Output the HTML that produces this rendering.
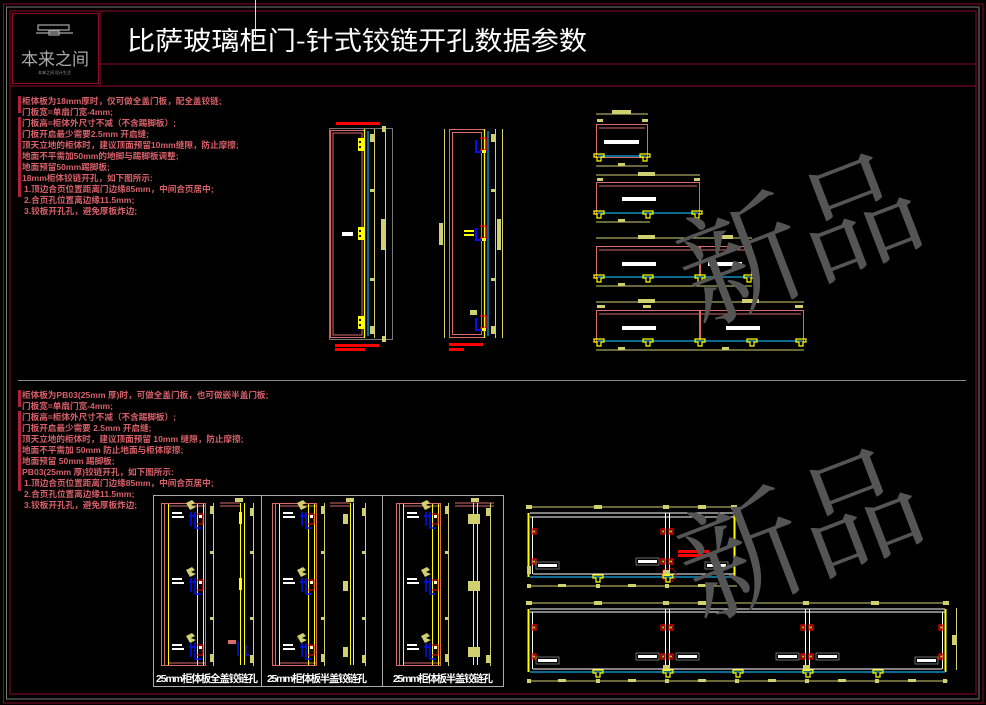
<!DOCTYPE html>
<html><head><meta charset="utf-8"><style>
html,body{margin:0;padding:0;background:#000;width:986px;height:705px;overflow:hidden}
svg{display:block}
.t{font-family:"Liberation Sans","Noto Sans CJK SC",sans-serif;font-size:8.6px;fill:#d8606a;font-weight:bold}
</style></head><body>
<svg width="986" height="705" viewBox="0 0 986 705" xmlns="http://www.w3.org/2000/svg">
<defs>
<g id="hg"><rect x="0" y="0" width="6" height="13" fill="#ffff00"/><rect x="1" y="3" width="2" height="2" fill="#000"/><rect x="1" y="8" width="2" height="2" fill="#000"/></g>
<g id="hb"><path d="M0 0v12h8" stroke="#0010ff" stroke-width="2" fill="none"/><path d="M4 -2h6v12h-6" stroke="#ff0000" stroke-width="1.2" fill="none"/><rect x="6" y="10" width="4" height="3" fill="#ffff00"/></g>
<g id="tee"><path d="M-5 0h10v3h-3v4h-4v-4h-3z" fill="none" stroke="#ffff00" stroke-width="1.2"/></g>
<g id="lbl"><rect x="0" y="0" width="23" height="7" fill="none" stroke="#888" stroke-width="0.8"/><rect x="2" y="2" width="19" height="3" fill="#fff"/></g>
<g id="rh"><rect x="0" y="0" width="4" height="5" fill="none" stroke="#ff0000" stroke-width="1.2"/><rect x="1.3" y="1.5" width="1.5" height="2" fill="#ffff00"/></g>
<g id="pc"><path d="M0 0l6 -3 3 3 -4 2 5 2 -6 3z" fill="#d0d070"/></g>
<g id="hc"><path d="M0 0v14M-2 4h6M4 0v16h6" stroke="#0010ff" stroke-width="1.5" fill="none"/><path d="M6 2h6v10h-6" stroke="#ff0000" stroke-width="1" fill="none"/><rect x="8" y="3" width="3" height="3" fill="#fff"/></g>
</defs>

<rect x="3.5" y="4" width="979.5" height="699" fill="none" stroke="#8a0a28" stroke-width="1"/>
<rect x="6.5" y="7" width="972.5" height="692" fill="none" stroke="#777" stroke-width="1"/>
<rect x="10" y="11" width="966" height="683" fill="none" stroke="#8a0a28" stroke-width="1"/>
<rect x="12.5" y="13.5" width="86" height="70" fill="none" stroke="#8a0a28" stroke-width="1"/>
<line x1="100" y1="11" x2="100" y2="86" stroke="#8a0a28"/>
<line x1="100" y1="64" x2="976" y2="64" stroke="#8a0a28"/>
<line x1="10" y1="86" x2="976" y2="86" stroke="#8a0a28"/>
<line x1="255.5" y1="0" x2="255.5" y2="40" stroke="#ddd"/>

<g stroke="#aaa" fill="none" stroke-width="1.2">
<rect x="38" y="25" width="31" height="5"/><line x1="36" y1="33" x2="73" y2="33"/><rect x="49" y="31" width="10" height="4"/>
</g>
<text x="21" y="65" font-family="'Noto Sans CJK SC',sans-serif" font-size="17" fill="#aaa" textLength="68">本来之间</text>
<text x="38" y="74" font-family="'Noto Sans CJK SC',sans-serif" font-size="4" fill="#999">本来之间 设计生活</text>

<text x="127" y="50" font-family="'Noto Sans CJK SC',sans-serif" font-size="26" fill="#fff" textLength="460" lengthAdjust="spacingAndGlyphs">比萨玻璃柜门-针式铰链开孔数据参数</text>

<g fill="#b02038"><rect x="18" y="96" width="3" height="17"/><rect x="18" y="117" width="3" height="80"/></g>
<g class="t">
<text x="22" y="104">柜体板为18mm厚时，仅可做全盖门板，配全盖铰链;</text>
<text x="22" y="115">门板宽=单扇门宽-4mm;</text>
<text x="22" y="126">门板高=柜体外尺寸不减（不含踢脚板）;</text>
<text x="22" y="137">门板开启最少需要2.5mm 开启缝;</text>
<text x="22" y="148">顶天立地的柜体时，建议顶面预留10mm缝隙，防止摩擦;</text>
<text x="22" y="159">地面不平需加50mm的地脚与踢脚板调整;</text>
<text x="22" y="170">地面预留50mm踢脚板;</text>
<text x="22" y="181">18mm柜体铰链开孔，如下图所示:</text>
<text x="24" y="192">1.顶边合页位置距离门边缘85mm，中间合页居中;</text>
<text x="24" y="203">2.合页孔位置离边缘11.5mm;</text>
<text x="24" y="214">3.铰板开孔孔，避免厚板炸边;</text>
</g>

<line x1="18" y1="380.5" x2="966" y2="380.5" stroke="#888"/>

<g fill="#b02038"><rect x="18" y="390" width="3" height="17"/><rect x="18" y="411" width="3" height="80"/></g>
<g class="t">
<text x="22" y="398">柜体板为PB03(25mm 厚)时，可做全盖门板，也可做嵌半盖门板;</text>
<text x="22" y="409">门板宽=单扇门宽-4mm;</text>
<text x="22" y="420">门板高=柜体外尺寸不减（不含踢脚板）;</text>
<text x="22" y="431">门板开启最少需要 2.5mm 开启缝;</text>
<text x="22" y="442">顶天立地的柜体时，建议顶面预留 10mm 缝隙，防止摩擦;</text>
<text x="22" y="453">地面不平需加 50mm 防止地面与柜体摩擦;</text>
<text x="22" y="464">地面预留 50mm 踢脚板;</text>
<text x="22" y="475">PB03(25mm 厚)铰链开孔，如下图所示:</text>
<text x="24" y="486">1.顶边合页位置距离门边缘85mm，中间合页居中;</text>
<text x="24" y="497">2.合页孔位置离边缘11.5mm;</text>
<text x="24" y="508">3.铰板开孔孔，避免厚板炸边;</text>
</g>

<rect x="336" y="122" width="44" height="3" fill="#ff0000"/>
<rect x="329.5" y="128.5" width="63" height="211" fill="none" stroke="#777"/>
<rect x="330.5" y="130.5" width="34" height="207" fill="none" stroke="#d86a6a"/>
<rect x="333" y="133" width="29" height="202" fill="none" stroke="#d86a6a"/>
<line x1="364.5" y1="129" x2="364.5" y2="338" stroke="#ffff00" stroke-width="1.3"/>
<line x1="368" y1="131" x2="368" y2="336" stroke="#0a6a90" stroke-width="2"/>
<line x1="374.5" y1="129" x2="374.5" y2="338" stroke="#d0d070"/>
<line x1="385.5" y1="128" x2="385.5" y2="340" stroke="#d0d070"/>
<use href="#hg" x="358" y="138"/><use href="#hg" x="358" y="227"/><use href="#hg" x="358" y="316"/>
<rect x="370" y="134" width="5" height="8" fill="#d0d070"/><rect x="370" y="189" width="5" height="3" fill="#d0d070"/><rect x="370" y="278" width="5" height="3" fill="#d0d070"/><rect x="370" y="326" width="5" height="8" fill="#d0d070"/>
<rect x="381" y="219" width="5" height="31" fill="#d0d070"/>
<rect x="382" y="126" width="4" height="6" fill="#d0d070"/><rect x="382" y="336" width="4" height="6" fill="#d0d070"/>
<rect x="342" y="232" width="11" height="4" fill="#fff"/>
<rect x="335" y="344" width="44" height="3" fill="#ff0000"/><rect x="335" y="348" width="30" height="3" fill="#ff0000"/>

<line x1="444.5" y1="129" x2="444.5" y2="338" stroke="#d0d070"/>
<rect x="449.5" y="129.5" width="35" height="208" fill="none" stroke="#d86a6a"/>
<rect x="452.5" y="132.5" width="29" height="202" fill="none" stroke="#d86a6a"/>
<line x1="484.5" y1="129" x2="484.5" y2="338" stroke="#ffff00" stroke-width="1.3"/>
<line x1="488" y1="131" x2="488" y2="336" stroke="#0a6a90" stroke-width="2"/>
<line x1="495.5" y1="129" x2="495.5" y2="338" stroke="#d0d070"/>
<line x1="502.5" y1="129" x2="502.5" y2="338" stroke="#d0d070"/>
<rect x="439" y="223" width="4" height="22" fill="#d0d070"/>
<rect x="497" y="219" width="4" height="31" fill="#d0d070"/>
<rect x="491" y="134" width="4" height="8" fill="#d0d070"/><rect x="491" y="189" width="4" height="3" fill="#d0d070"/><rect x="491" y="278" width="4" height="3" fill="#d0d070"/><rect x="491" y="326" width="4" height="8" fill="#d0d070"/>
<use href="#hb" x="476" y="140"/><use href="#hb" x="476" y="228"/><use href="#hb" x="476" y="318"/>
<rect x="464" y="230" width="10" height="2" fill="#ffff00"/><rect x="464" y="234" width="10" height="2" fill="#ffff00"/>
<rect x="470" y="310" width="7" height="5" fill="#d0d070"/>
<rect x="449" y="343" width="34" height="3" fill="#ff0000"/><rect x="449" y="348" width="15" height="3" fill="#ff0000"/>

<g fill="none" stroke-width="1">
<line x1="596" y1="114" x2="648" y2="114" stroke="#d0d070"/><rect x="612" y="110" width="19" height="4" fill="#d0d070" stroke="none"/>
<rect x="597" y="119" width="6" height="3" fill="#d0d070" stroke="none"/><rect x="642" y="119" width="6" height="3" fill="#d0d070" stroke="none"/>
<rect x="596.5" y="124.5" width="51" height="33" stroke="#d86a6a"/><line x1="599" y1="128" x2="645" y2="128" stroke="#d86a6a"/>
<line x1="598" y1="156" x2="646" y2="156" stroke="#0a6a90" stroke-width="2"/>
<line x1="596" y1="166" x2="648" y2="166" stroke="#d0d070"/><rect x="618" y="163" width="7" height="3" fill="#d0d070" stroke="none"/>
<rect x="604" y="140" width="35" height="4" fill="#fff" stroke="none"/>
<line x1="596" y1="175" x2="700" y2="175" stroke="#d0d070"/><rect x="638" y="172" width="17" height="4" fill="#d0d070" stroke="none"/>
<rect x="597" y="178" width="6" height="3" fill="#d0d070" stroke="none"/><rect x="694" y="178" width="6" height="3" fill="#d0d070" stroke="none"/>
<rect x="596.5" y="182.5" width="103" height="31" stroke="#d86a6a"/><line x1="599" y1="186" x2="697" y2="186" stroke="#d86a6a"/>
<line x1="598" y1="213" x2="698" y2="213" stroke="#0a6a90" stroke-width="2"/>
<line x1="596" y1="222" x2="650" y2="222" stroke="#d0d070"/><rect x="618" y="219" width="7" height="3" fill="#d0d070" stroke="none"/>
<rect x="622" y="197" width="34" height="4" fill="#fff" stroke="none"/>
<line x1="596" y1="238" x2="752" y2="238" stroke="#d0d070"/><rect x="638" y="235" width="17" height="4" fill="#d0d070" stroke="none"/><rect x="716" y="235" width="17" height="4" fill="#d0d070" stroke="none"/>
<rect x="596.5" y="246.5" width="103" height="31" stroke="#d86a6a"/><rect x="700.5" y="246.5" width="51" height="31" stroke="#d86a6a"/>
<line x1="599" y1="250" x2="749" y2="250" stroke="#d86a6a"/>
<line x1="598" y1="277" x2="750" y2="277" stroke="#0a6a90" stroke-width="2"/>
<line x1="596" y1="286" x2="752" y2="286" stroke="#d0d070"/><rect x="618" y="283" width="7" height="3" fill="#d0d070" stroke="none"/>
<rect x="622" y="262" width="34" height="4" fill="#fff" stroke="none"/><rect x="708" y="262" width="34" height="4" fill="#fff" stroke="none"/>
<line x1="596" y1="302" x2="804" y2="302" stroke="#d0d070"/><rect x="638" y="299" width="17" height="4" fill="#d0d070" stroke="none"/><rect x="742" y="299" width="17" height="4" fill="#d0d070" stroke="none"/>
<rect x="597" y="305" width="8" height="3" fill="#d0d070" stroke="none"/><rect x="643" y="305" width="8" height="3" fill="#d0d070" stroke="none"/><rect x="795" y="305" width="8" height="3" fill="#d0d070" stroke="none"/>
<rect x="596.5" y="310.5" width="103" height="31" stroke="#d86a6a"/><rect x="700.5" y="310.5" width="103" height="31" stroke="#d86a6a"/>
<line x1="599" y1="314" x2="801" y2="314" stroke="#d86a6a"/>
<line x1="598" y1="341" x2="802" y2="341" stroke="#0a6a90" stroke-width="2"/>
<line x1="596" y1="350" x2="804" y2="350" stroke="#d0d070"/><rect x="618" y="347" width="7" height="3" fill="#d0d070" stroke="none"/><rect x="722" y="347" width="7" height="3" fill="#d0d070" stroke="none"/>
<rect x="622" y="326" width="34" height="4" fill="#fff" stroke="none"/><rect x="726" y="326" width="34" height="4" fill="#fff" stroke="none"/>
</g>
<g>
<use href="#tee" x="599" y="154"/><use href="#tee" x="645" y="154"/>
<use href="#tee" x="599" y="211"/><use href="#tee" x="648" y="211"/><use href="#tee" x="697" y="211"/>
<use href="#tee" x="599" y="275"/><use href="#tee" x="648" y="275"/><use href="#tee" x="700" y="275"/><use href="#tee" x="749" y="275"/>
<use href="#tee" x="599" y="339"/><use href="#tee" x="648" y="339"/><use href="#tee" x="700" y="339"/><use href="#tee" x="752" y="339"/><use href="#tee" x="801" y="339"/>
</g>

<g fill="none" stroke="#aaa"><rect x="153.5" y="495.5" width="108" height="191"/><rect x="261.5" y="495.5" width="121" height="191"/><rect x="382.5" y="495.5" width="121" height="191"/></g>
<g id="p1">
<rect x="161.5" y="503.5" width="44" height="162" fill="none" stroke="#d86a6a"/>
<line x1="164.5" y1="504" x2="164.5" y2="665" stroke="#d86a6a"/>
<line x1="168" y1="506" x2="205" y2="506" stroke="#d86a6a"/><line x1="168" y1="663" x2="205" y2="663" stroke="#d86a6a"/>
<line x1="168.5" y1="504" x2="168.5" y2="665" stroke="#ffff00"/>
<line x1="197.5" y1="504" x2="197.5" y2="665" stroke="#ffff00"/>
<line x1="203.5" y1="504" x2="203.5" y2="665" stroke="#ffff00"/>
<line x1="213.5" y1="503" x2="213.5" y2="666" stroke="#d0d070"/>
<rect x="210" y="506" width="4" height="8" fill="#d0d070"/><rect x="210" y="551" width="4" height="3" fill="#d0d070"/><rect x="210" y="617" width="4" height="3" fill="#d0d070"/><rect x="210" y="654" width="4" height="8" fill="#d0d070"/>
<rect x="172" y="512" width="10" height="2" fill="#fff"/><rect x="172" y="516" width="12" height="2" fill="#fff"/>
<rect x="172" y="578" width="10" height="2" fill="#fff"/><rect x="172" y="582" width="12" height="2" fill="#fff"/>
<rect x="172" y="644" width="10" height="2" fill="#fff"/><rect x="172" y="648" width="12" height="2" fill="#fff"/>
<use href="#pc" x="186" y="503"/><use href="#pc" x="186" y="570"/><use href="#pc" x="186" y="636"/>
<use href="#hc" x="191" y="512"/><use href="#hc" x="191" y="578"/><use href="#hc" x="191" y="643"/>
</g>
<g>
<line x1="220" y1="503" x2="240" y2="503" stroke="#d86a6a"/><line x1="220" y1="506" x2="240" y2="506" stroke="#d86a6a"/>
<line x1="240.5" y1="503" x2="240.5" y2="665" stroke="#ffff00"/><line x1="244.5" y1="503" x2="244.5" y2="665" stroke="#ffff00"/>
<line x1="253.5" y1="503" x2="253.5" y2="666" stroke="#d0d070"/>
<rect x="235" y="498" width="8" height="4" fill="#d0d070"/>
<rect x="250" y="508" width="4" height="8" fill="#d0d070"/><rect x="250" y="551" width="4" height="3" fill="#d0d070"/><rect x="250" y="617" width="4" height="3" fill="#d0d070"/><rect x="250" y="655" width="4" height="8" fill="#d0d070"/>
<rect x="239" y="512" width="3" height="12" fill="#ffff00"/><rect x="239" y="578" width="3" height="12" fill="#ffff00"/>
<rect x="228" y="640" width="8" height="4" fill="#d86a6a"/><path d="M238 641v15M246 645v10h4" stroke="#0010ff" fill="none" stroke-width="1.5"/>
</g>
<use href="#p1" x="111" y="0"/>
<g>
<line x1="330" y1="503" x2="350" y2="503" stroke="#d86a6a"/><line x1="330" y1="506" x2="350" y2="506" stroke="#d86a6a"/>
<line x1="350.5" y1="503" x2="350.5" y2="665" stroke="#ffff00"/><line x1="353.5" y1="503" x2="353.5" y2="665" stroke="#ffff00"/>
<line x1="365.5" y1="503" x2="365.5" y2="666" stroke="#d0d070"/>
<rect x="346" y="498" width="8" height="4" fill="#d0d070"/>
<rect x="343" y="514" width="5" height="10" fill="#d0d070"/><rect x="343" y="581" width="5" height="10" fill="#d0d070"/><rect x="343" y="647" width="5" height="10" fill="#d0d070"/>
<rect x="362" y="508" width="4" height="8" fill="#d0d070"/><rect x="362" y="551" width="4" height="3" fill="#d0d070"/><rect x="362" y="617" width="4" height="3" fill="#d0d070"/><rect x="362" y="655" width="4" height="8" fill="#d0d070"/>
</g>
<use href="#p1" x="235" y="0"/>
<g>
<line x1="455" y1="503" x2="494" y2="503" stroke="#d86a6a"/><line x1="455" y1="506" x2="494" y2="506" stroke="#d86a6a"/>
<line x1="473.5" y1="503" x2="473.5" y2="665" stroke="#ffff00"/><line x1="477.5" y1="503" x2="477.5" y2="665" stroke="#ffff00"/>
<line x1="490.5" y1="503" x2="490.5" y2="666" stroke="#d0d070"/>
<rect x="471" y="498" width="8" height="4" fill="#d0d070"/>
<rect x="468" y="514" width="12" height="10" fill="#d0d070"/><rect x="468" y="581" width="12" height="10" fill="#d0d070"/><rect x="468" y="647" width="12" height="10" fill="#d0d070"/>
<rect x="486" y="508" width="4" height="8" fill="#d0d070"/><rect x="486" y="655" width="4" height="8" fill="#d0d070"/>
</g>
<g font-family="'Liberation Sans','Noto Sans CJK SC',sans-serif" font-size="10.5" font-weight="bold" fill="#fff">
<text x="156" y="682" textLength="102">25mm柜体板全盖铰链孔</text>
<text x="267" y="682" textLength="100">25mm柜体板半盖铰链孔</text>
<text x="393" y="682" textLength="100">25mm柜体板半盖铰链孔</text>
</g>

<g fill="none">
<line x1="527" y1="507" x2="737" y2="507" stroke="#d0d070"/>
<line x1="530" y1="513" x2="735" y2="513" stroke="#fff"/><line x1="530" y1="517" x2="735" y2="517" stroke="#fff"/>
<line x1="533" y1="574" x2="735" y2="574" stroke="#fff"/>
<line x1="528.5" y1="513" x2="528.5" y2="577" stroke="#ffff00" stroke-width="2"/><line x1="734.5" y1="513" x2="734.5" y2="577" stroke="#ffff00" stroke-width="2"/>
<line x1="532.5" y1="517" x2="532.5" y2="574" stroke="#fff"/>
<line x1="665.5" y1="513" x2="665.5" y2="574" stroke="#fff"/><line x1="669.5" y1="513" x2="669.5" y2="574" stroke="#fff"/>
<line x1="530" y1="577" x2="735" y2="577" stroke="#0a6a90" stroke-width="2"/>
<line x1="527" y1="586" x2="737" y2="586" stroke="#d0d070"/>
<circle cx="669" cy="575" r="7" stroke="#ff0000" stroke-dasharray="2 1"/>
<line x1="527" y1="603" x2="948" y2="603" stroke="#d0d070"/>
<line x1="530" y1="609" x2="945" y2="609" stroke="#fff"/><line x1="530" y1="612" x2="945" y2="612" stroke="#fff"/>
<line x1="533" y1="669" x2="942" y2="669" stroke="#fff"/>
<line x1="528.5" y1="609" x2="528.5" y2="672" stroke="#ffff00" stroke-width="2"/><line x1="945.5" y1="609" x2="945.5" y2="672" stroke="#ffff00" stroke-width="2"/>
<line x1="532.5" y1="612" x2="532.5" y2="669" stroke="#fff"/><line x1="942.5" y1="612" x2="942.5" y2="669" stroke="#fff"/>
<line x1="665.5" y1="609" x2="665.5" y2="669" stroke="#fff"/><line x1="669.5" y1="609" x2="669.5" y2="669" stroke="#fff"/>
<line x1="805.5" y1="609" x2="805.5" y2="669" stroke="#fff"/><line x1="809.5" y1="609" x2="809.5" y2="669" stroke="#fff"/>
<line x1="530" y1="672" x2="945" y2="672" stroke="#0a6a90" stroke-width="2"/>
<line x1="527" y1="681" x2="948" y2="681" stroke="#d0d070"/>
<line x1="956.5" y1="608" x2="956.5" y2="670" stroke="#d0d070"/>
</g>
<g fill="#d0d070">
<rect x="526" y="505" width="6" height="4"/><rect x="594" y="505" width="8" height="4"/><rect x="663" y="505" width="6" height="4"/><rect x="698" y="505" width="8" height="4"/><rect x="731" y="505" width="6" height="4"/>
<rect x="527" y="584" width="4" height="4"/><rect x="558" y="584" width="8" height="3"/><rect x="596" y="584" width="4" height="4"/><rect x="628" y="584" width="8" height="3"/><rect x="665" y="584" width="4" height="4"/><rect x="698" y="584" width="8" height="3"/>
<rect x="526" y="601" width="6" height="4"/><rect x="594" y="601" width="8" height="4"/><rect x="663" y="601" width="6" height="4"/><rect x="698" y="601" width="8" height="4"/><rect x="803" y="601" width="6" height="4"/><rect x="871" y="601" width="8" height="4"/><rect x="943" y="601" width="6" height="4"/>
<rect x="527" y="679" width="4" height="4"/><rect x="558" y="679" width="8" height="3"/><rect x="596" y="679" width="4" height="4"/><rect x="628" y="679" width="8" height="3"/><rect x="665" y="679" width="4" height="4"/><rect x="698" y="679" width="8" height="3"/><rect x="735" y="679" width="4" height="4"/><rect x="768" y="679" width="8" height="3"/><rect x="805" y="679" width="4" height="4"/><rect x="838" y="679" width="8" height="3"/><rect x="875" y="679" width="4" height="4"/><rect x="908" y="679" width="8" height="3"/><rect x="943" y="679" width="4" height="4"/>
<rect x="952" y="635" width="5" height="10"/>
<rect x="663" y="570" width="7" height="6"/><rect x="663" y="665" width="7" height="6"/><rect x="803" y="665" width="7" height="6"/>
<rect x="527" y="566" width="4" height="8"/>
</g>
<g>
<use href="#tee" x="598" y="575"/><use href="#tee" x="668" y="575"/><use href="#tee" x="598" y="670"/><use href="#tee" x="668" y="670"/><use href="#tee" x="738" y="670"/><use href="#tee" x="808" y="670"/><use href="#tee" x="878" y="670"/>
<use href="#rh" x="532" y="529"/><use href="#rh" x="532" y="559"/><use href="#rh" x="661" y="529"/><use href="#rh" x="669" y="529"/><use href="#rh" x="661" y="559"/><use href="#rh" x="669" y="559"/>
<use href="#rh" x="532" y="625"/><use href="#rh" x="532" y="654"/><use href="#rh" x="661" y="625"/><use href="#rh" x="669" y="625"/><use href="#rh" x="661" y="654"/><use href="#rh" x="669" y="654"/>
<use href="#rh" x="801" y="625"/><use href="#rh" x="809" y="625"/><use href="#rh" x="801" y="654"/><use href="#rh" x="809" y="654"/><use href="#rh" x="939" y="625"/><use href="#rh" x="939" y="654"/>
<use href="#lbl" x="536" y="562"/><use href="#lbl" x="636" y="558"/><use href="#lbl" x="705" y="562"/>
<use href="#lbl" x="536" y="657"/><use href="#lbl" x="636" y="653"/><use href="#lbl" x="676" y="653"/><use href="#lbl" x="776" y="653"/><use href="#lbl" x="816" y="653"/><use href="#lbl" x="915" y="657"/>
</g>
<rect x="678" y="550" width="31" height="3" fill="#ff0000"/><rect x="678" y="554" width="31" height="3" fill="#ff0000"/>

<g font-family="'Noto Serif CJK SC','Noto Sans CJK SC',serif" font-size="124" fill="#555">
<text x="0" y="0" transform="translate(815,280) rotate(-21)" text-anchor="middle">新品</text>
<text x="0" y="0" transform="translate(816,575) rotate(-21)" text-anchor="middle">新品</text>
</g>
</svg>
</body></html>
